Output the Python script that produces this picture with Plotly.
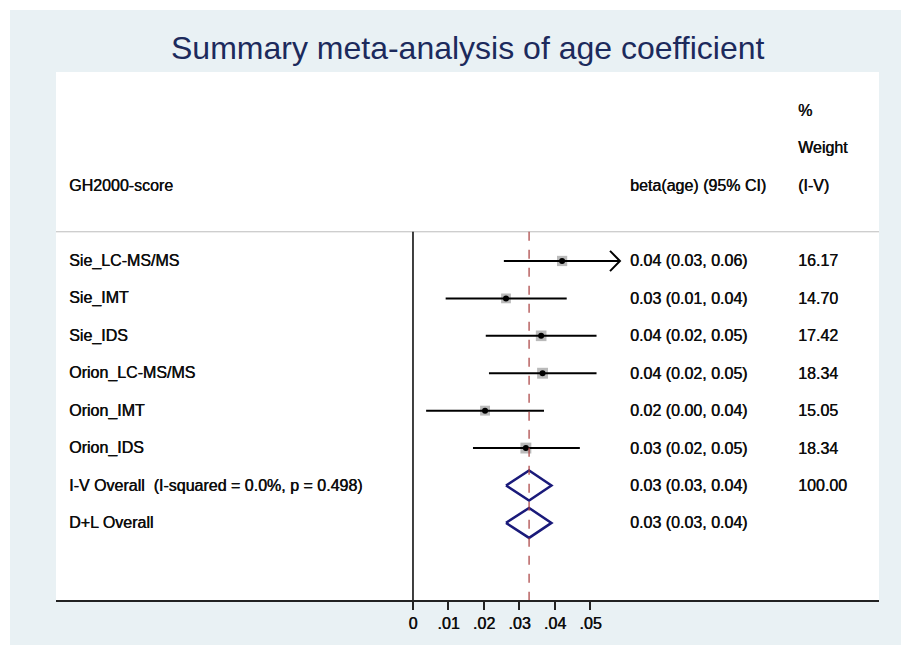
import plotly.graph_objects as go
import math

studies = ["Sie_LC-MS/MS", "Sie_IMT", "Sie_IDS", "Orion_LC-MS/MS", "Orion_IMT", "Orion_IDS"]
est = [0.0420, 0.0262, 0.0361, 0.0365, 0.0203, 0.0318]
lo = [0.0256, 0.0092, 0.0205, 0.0214, 0.0037, 0.0169]
hi = [0.0583, 0.0433, 0.0517, 0.0517, 0.0369, 0.0470]
ci_text = ["0.04 (0.03, 0.06)", "0.03 (0.01, 0.04)", "0.04 (0.02, 0.05)",
           "0.04 (0.02, 0.05)", "0.02 (0.00, 0.04)", "0.03 (0.02, 0.05)"]
weights = ["16.17", "14.70", "17.42", "18.34", "15.05", "18.34"]
weight_vals = [16.17, 14.70, 17.42, 18.34, 15.05, 18.34]
arrow_right = [True, False, False, False, False, False]

overall_labels = ["I-V Overall  (I-squared = 0.0%, p = 0.498)", "D+L Overall"]
overall_est = [0.0327, 0.0327]
overall_lo = [0.0262, 0.0262]
overall_hi = [0.0390, 0.0390]
overall_text = ["0.03 (0.03, 0.04)", "0.03 (0.03, 0.04)"]
overall_weight = ["100.00", ""]

tick_vals = [0, 0.01, 0.02, 0.03, 0.04, 0.05]
tick_text = ["0", ".01", ".02", ".03", ".04", ".05"]

title = "Summary meta-analysis of age coefficient"
header_left = "GH2000-score"
header_ci = "beta(age) (95% CI)"
header_w = ["%", "Weight", "(I-V)"]

FONT = "Liberation Sans, Arial, sans-serif"
TXT = "#0d0d0d"
BG = "#E9F1F4"
SHADOW = "0.45px 0 0 #0d0d0d"

# layout geometry (page has an 8px body margin)
OFF = 8
W, H = 909 - OFF, 654 - OFF
ml, mr, mt, mb = 56 - OFF, 909 - 879, 72 - OFF, 654 - 600
xr = [-0.10056, 0.13127]
yr = [9.06, -5.05]
y_sep = -0.78

def px2p(px, py):
    fx, fy = px - OFF, py - OFF
    return (fx - ml) / (W - ml - mr), (H - mb - fy) / (H - mt - mb)

x_lab = px2p(67, 0)[0]
x_ci = px2p(628, 0)[0]
x_w = px2p(796, 0)[0]

fig = go.Figure()

ys = list(range(len(studies)))
fig.add_trace(go.Scatter(
    x=est, y=ys, mode="markers",
    marker=dict(symbol="square", size=[10.5 * math.sqrt(w / 17) for w in weight_vals],
                color="#9c9c9c", line=dict(width=0)),
    hoverinfo="skip", showlegend=False))

for i in range(len(studies)):
    fig.add_trace(go.Scatter(x=[lo[i], hi[i]], y=[i, i], mode="lines",
                             line=dict(color="black", width=2), hoverinfo="skip", showlegend=False))
    if arrow_right[i]:
        dx, dy = 0.0028, 0.27
        fig.add_trace(go.Scatter(x=[hi[i] - dx, hi[i], hi[i] - dx], y=[i - dy, i, i + dy], mode="lines",
                                 line=dict(color="black", width=2), hoverinfo="skip", showlegend=False))

fig.add_trace(go.Scatter(x=est, y=ys, mode="markers",
                         marker=dict(symbol="circle", size=6, color="black"),
                         hoverinfo="skip", showlegend=False))

n = len(studies)
for k in range(len(overall_labels)):
    yy = n + k
    fig.add_trace(go.Scatter(
        x=[overall_lo[k], overall_est[k], overall_hi[k], overall_est[k], overall_lo[k]],
        y=[yy, yy - 0.4, yy, yy + 0.4, yy], mode="lines",
        line=dict(color="#1a1a7a", width=2.5), hoverinfo="skip", showlegend=False))

shapes = []
x0p, y0p = px2p(OFF, OFF)
x1p, y1p = px2p(909, 654)
xa, ya = px2p(10, 10)
xb, yb = px2p(908, 645)
for (a, b, c, d) in [(x0p, y0p, x1p, ya), (x0p, yb, x1p, y1p), (x0p, y0p, xa, y1p), (xb, y0p, x1p, y1p)]:
    shapes.append(dict(type="rect", xref="paper", yref="paper", x0=a, x1=c, y0=b, y1=d,
                       fillcolor="white", line=dict(width=0), layer="below"))

shapes.append(dict(type="line", xref="paper", yref="y", x0=0, x1=1, y0=y_sep, y1=y_sep,
                   line=dict(color="#bdbdbd", width=1)))
shapes.append(dict(type="line", xref="x", yref="y", x0=0, x1=0, y0=y_sep, y1=yr[0],
                   line=dict(color="black", width=1.5)))
shapes.append(dict(type="line", xref="x", yref="y", x0=overall_est[0], x1=overall_est[0], y0=y_sep, y1=yr[0],
                   line=dict(color="#a83c3c", width=1.2, dash="dash")))

ann = []
def txt(x, y, s, size=16):
    ann.append(dict(x=x, y=y, xref="paper", yref="y", text=s, showarrow=False, xanchor="left",
                    yanchor="middle", font=dict(family=FONT, size=size, color=TXT, shadow=SHADOW)))

for i, s in enumerate(studies):
    txt(x_lab, i, s)
    txt(x_ci, i, ci_text[i])
    txt(x_w, i, weights[i])
for k, s in enumerate(overall_labels):
    txt(x_lab, n + k, s)
    txt(x_ci, n + k, overall_text[k])
    if overall_weight[k]:
        txt(x_w, n + k, overall_weight[k])

txt(x_lab, -2.03, header_left)
txt(x_ci, -2.03, header_ci)
for j, s in enumerate(header_w):
    txt(x_w, -4.01 + j * 0.99, s)

tx, ty = px2p(468, 48)
ann.append(dict(x=tx, y=ty, xref="paper", yref="paper", text=title, showarrow=False,
                xanchor="center", yanchor="middle",
                font=dict(family=FONT, size=32, color="#1c2a5c")))

fig.update_layout(
    width=W, height=H,
    margin=dict(l=ml, r=mr, t=mt, b=mb, pad=0),
    paper_bgcolor=BG, plot_bgcolor="white",
    shapes=shapes, annotations=ann,
    xaxis=dict(range=xr, showgrid=False, zeroline=False, showline=True, linecolor="#222222", linewidth=2,
               tickmode="array", tickvals=tick_vals, ticktext=tick_text, ticks="outside", ticklen=8,
               tickwidth=1.5, tickcolor="#222222",
               tickfont=dict(family=FONT, size=16, color=TXT, shadow=SHADOW), fixedrange=True),
    yaxis=dict(range=yr, visible=False, fixedrange=True),
    showlegend=False,
)

fig.write_html("out.html")
